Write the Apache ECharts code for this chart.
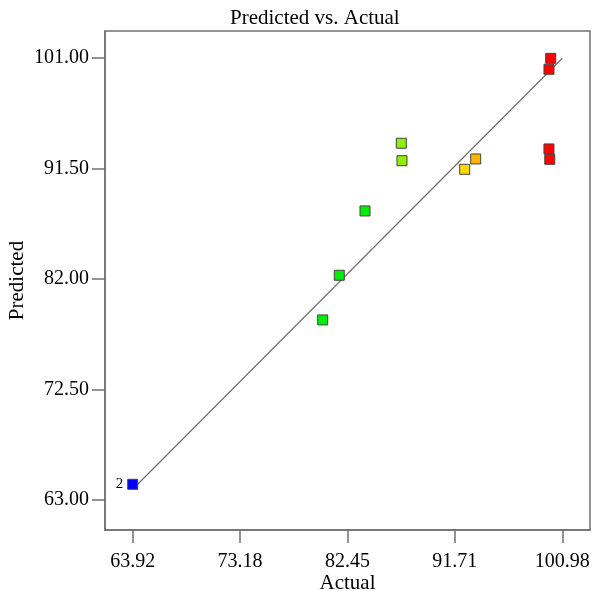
<!DOCTYPE html>
<html>
<head>
<meta charset="utf-8">
<script src="https://cdn.jsdelivr.net/npm/echarts@6/dist/echarts.min.js"></script>
<style>
  html, body { margin: 0; padding: 0; background: #fff; }
  #chart { width: 597px; height: 591px; }
</style>
</head>
<body>
<div id="chart"></div>
<script>
// values
const actual = [63.92, 80.31, 81.74, 83.96, 87.09, 87.15, 92.56, 93.51, 99.98, 99.83, 99.83, 99.90];
const predicted = [64.35, 78.48, 82.32, 87.85, 93.67, 92.17, 91.43, 92.32, 100.97, 100.03, 93.18, 92.29];
const pointLabels = ['2', '', '', '', '', '', '', '', '', '', '', ''];
const pointColors = ['#0000ff', '#00ee00', '#00ee00', '#00ee00', '#90ee00', '#90ee00',
  '#ffd800', '#ffb400', '#ff0000', '#ff0000', '#ff0000', '#ff0000'];

const xTicks = [63.92, 73.18, 82.45, 91.71, 100.98];
const yTicks = [63.00, 72.50, 82.00, 91.50, 101.00];
const xRange = [61.53, 103.37];
const yRange = [60.42, 103.32];
// y = x reference line, from min to max actual
const fitLine = [[63.92, 63.92], [100.98, 100.98]];

const font = 'Liberation Serif';
const boxColor = '#707070';

const chart = echarts.init(document.getElementById('chart'));

const points = actual.map((a, i) => ({
  value: [a, predicted[i]],
  itemStyle: { color: pointColors[i] },
  label: {
    show: !!pointLabels[i],
    formatter: pointLabels[i],
    position: 'left',
    distance: 4,
    color: '#000',
    fontFamily: font,
    fontSize: 15
  }
}));

chart.setOption({
  animation: false,
  title: {
    text: 'Predicted vs. Actual',
    left: 225,
    top: 3,
    textStyle: { fontFamily: font, fontSize: 21, fontWeight: 'normal', color: '#000' }
  },
  grid: {
    left: 105, right: 7, top: 31, bottom: 61,
    outerBoundsMode: 'none',
    containLabel: false,
    show: true, borderColor: boxColor, borderWidth: 1.5
  },
  xAxis: {
    type: 'value',
    min: xRange[0], max: xRange[1],
    name: 'Actual',
    nameLocation: 'middle',
    nameMoveOverlap: false,
    nameGap: 43,
    nameTextStyle: { fontFamily: font, fontSize: 21, color: '#000' },
    splitLine: { show: false },
    axisLine: { show: true, lineStyle: { color: boxColor, width: 1.5 } },
    axisTick: { show: true, inside: false, length: 13, customValues: xTicks,
      lineStyle: { color: boxColor, width: 1.5 } },
    axisLabel: {
      customValues: xTicks,
      margin: 22,
      formatter: v => v.toFixed(2),
      fontFamily: font, fontSize: 20, color: '#000'
    }
  },
  yAxis: {
    type: 'value',
    min: yRange[0], max: yRange[1],
    name: 'Predicted',
    nameLocation: 'middle',
    nameMoveOverlap: false,
    nameGap: 77,
    nameRotate: 90,
    nameTextStyle: { fontFamily: font, fontSize: 21, color: '#000' },
    splitLine: { show: false },
    axisLine: { show: true, lineStyle: { color: boxColor, width: 1.5 } },
    axisTick: { show: true, inside: false, length: 13, customValues: yTicks,
      lineStyle: { color: boxColor, width: 1.5 } },
    axisLabel: {
      customValues: yTicks,
      margin: 16,
      formatter: v => v.toFixed(2),
      fontFamily: font, fontSize: 20, color: '#000'
    }
  },
  series: [
    {
      type: 'line',
      data: fitLine,
      symbol: 'none',
      silent: true,
      lineStyle: { color: '#707070', width: 1.2 },
      z: 1
    },
    {
      type: 'scatter',
      data: points,
      symbol: 'rect',
      symbolSize: 10,
      itemStyle: { borderColor: '#444', borderWidth: 1, opacity: 1 },
      z: 2
    }
  ]
});
</script>
</body>
</html>
